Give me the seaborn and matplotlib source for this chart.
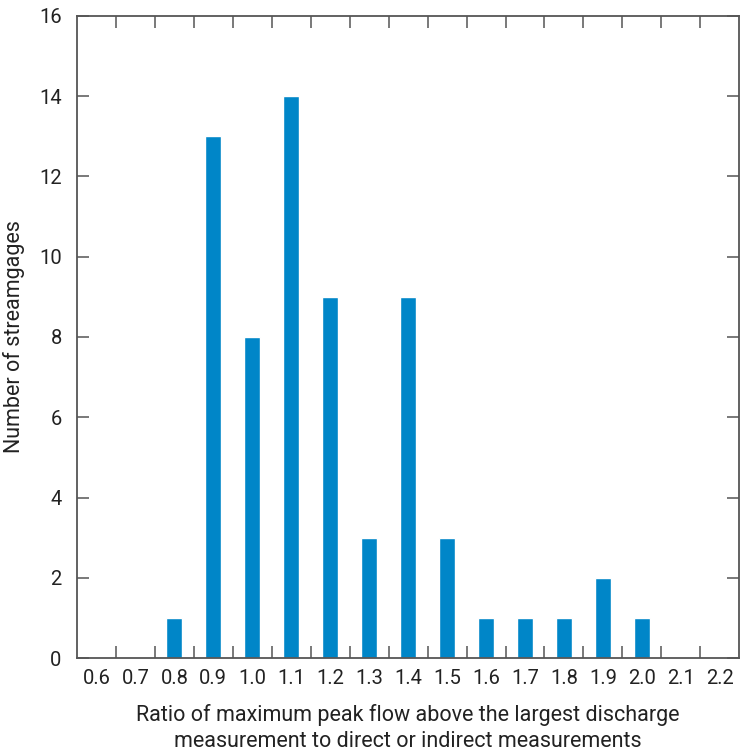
import matplotlib
matplotlib.use("Agg")
import matplotlib.pyplot as plt
from matplotlib.ticker import FixedLocator
import seaborn as sns
import pandas as pd
import numpy as np

# ratio classes and number of streamgages in each
ratios = ['0.6', '0.7', '0.8', '0.9', '1.0', '1.1', '1.2', '1.3', '1.4',
          '1.5', '1.6', '1.7', '1.8', '1.9', '2.0', '2.1', '2.2']
counts = [0, 0, 1, 13, 8, 14, 9, 3, 9, 3, 1, 1, 1, 2, 1, 0, 0]
y_ticks = [0, 2, 4, 6, 8, 10, 12, 14, 16]

df = pd.DataFrame({'Ratio': ratios, 'Count': counts})

sns.set_style('white')
plt.rcParams['font.family'] = ['Roboto', 'DejaVu Sans']

fig = plt.figure(figsize=(7.4, 7.53), dpi=100)
ax = fig.add_axes([0.104, 0.126, 0.895, 0.853])

sns.barplot(data=df, x='Ratio', y='Count', order=ratios, color='#0086C8',
            width=0.41, saturation=1, ax=ax)

ax.set_xlim(-0.5, len(ratios) - 0.5)
ax.set_ylim(0, 16)
ax.set_yticks(y_ticks)

spine_col = '#555555'
for s in ax.spines.values():
    s.set_visible(True)
    s.set_color(spine_col)
    s.set_linewidth(1.3)

ax.tick_params(axis='x', which='major', length=0, pad=8, labelsize=14.5,
               colors='#222222')
ax.xaxis.set_minor_locator(FixedLocator(np.arange(0.5, len(ratios) - 1, 1.0)))
ax.tick_params(axis='x', which='minor', direction='in', length=8.5, width=1.1,
               top=True, bottom=True, color=spine_col)
ax.tick_params(axis='y', which='major', direction='in', length=8.5, width=1.1,
               left=True, right=True, labelsize=14.5, color=spine_col,
               labelcolor='#222222', pad=11)

ax.set_xlabel('Ratio of maximum peak flow above the largest discharge\n'
              'measurement to direct or indirect measurements',
              fontsize=15.5, color='#222222', labelpad=11, linespacing=1.35)
ax.set_ylabel('Number of streamgages', fontsize=15.5, color='#222222',
              labelpad=10)

fig.savefig('out.png', dpi=100)
